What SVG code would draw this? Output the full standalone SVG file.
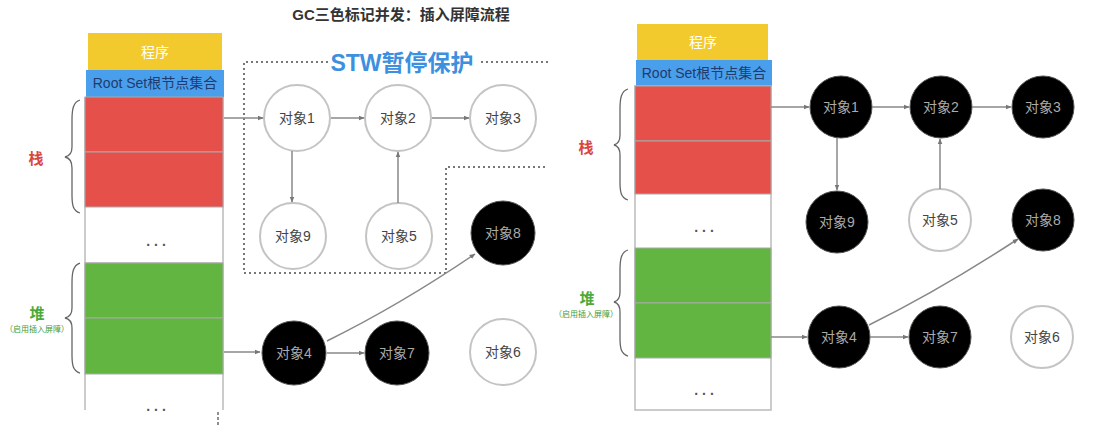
<svg xmlns="http://www.w3.org/2000/svg" width="1097" height="426" viewBox="0 0 1097 426">
<defs>
<marker id="ah" viewBox="0 0 10 10" refX="9" refY="5" markerWidth="6" markerHeight="6" orient="auto" markerUnits="userSpaceOnUse">
<path d="M0,1 L10,5 L0,9 z" fill="#777"/>
</marker>
<style>
text{font-family:"Liberation Sans","Noto Sans CJK SC",sans-serif;}
.title{font-size:15px;font-weight:bold;fill:#333;}
.stw{font-size:23px;font-weight:bold;fill:#3d8fe0;}
.prog{font-size:14px;fill:#fff;text-anchor:middle;}
.root{font-size:14px;fill:#1f3b6e;text-anchor:middle;}
.col{fill:none;stroke:#bbb;stroke-width:1.5;}
.red{fill:#e5504b;stroke:#aaa;stroke-width:1;}
.green{fill:#62b540;stroke:#aaa;stroke-width:1;}
.dots{font-size:14px;font-weight:bold;fill:#555;text-anchor:middle;letter-spacing:4px;}
.brace{fill:none;stroke:#666;stroke-width:1.3;}
.zhan{font-size:15px;font-weight:bold;fill:#d9463f;text-anchor:middle;}
.dui{font-size:15px;font-weight:bold;fill:#4caa3a;text-anchor:middle;}
.tiny{font-size:8px;fill:#3f9a35;text-anchor:middle;}
.w circle{fill:#fff;stroke:#c4c4c4;stroke-width:2;}
.b circle{fill:#000;stroke:#555;stroke-width:1;}
.w text{font-size:14px;fill:#444;text-anchor:middle;}
.b text{font-size:14px;fill:#aaa;text-anchor:middle;}
.e{fill:none;stroke:#888;stroke-width:1.5;marker-end:url(#ah);}
.dotted{fill:none;stroke:#777;stroke-width:2;stroke-dasharray:2 3;}
</style>
</defs>
<rect width="1097" height="426" fill="#fff"/>

<text class="title" x="401" y="20" text-anchor="middle">GC三色标记并发：插入屏障流程</text>

<!-- left panel column -->
<g id="left-memory">
<rect x="88" y="33" width="134" height="37" fill="#f3ca2e"/>
<text class="prog" x="155" y="57">程序</text>
<rect x="86" y="70" width="138" height="27" fill="#4a9fec"/>
<text class="root" x="155" y="88">Root Set根节点集合</text>
<path class="col" d="M85,97 V410 M223,97 V410"/>
<rect class="red" x="85" y="97" width="138" height="55"/>
<rect class="red" x="85" y="152" width="138" height="55"/>
<line x1="85" y1="263" x2="223" y2="263" stroke="#bbb" stroke-width="1.5"/>
<text class="dots" x="158" y="246">...</text>
<rect class="green" x="85" y="263" width="138" height="55"/>
<rect class="green" x="85" y="318" width="138" height="56"/>
<text class="dots" x="158" y="411">...</text>
<path class="brace" d="M80,100 C73,102 72,110 72,120 L72,147 C72,153 70,156 65,157 C70,158 72,162 72,168 L72,195 C72,205 73,211 80,213"/>
<text class="zhan" x="36" y="164">栈</text>
<path class="brace" d="M80,263 C73,265 72,273 72,283 L72,308 C72,314 70,317 65,318 C70,319 72,322 72,328 L72,355 C72,365 73,371 80,373"/>
<text class="dui" x="37" y="319">堆</text>
<text class="tiny" x="37" y="332">（启用插入屏障）</text>
<line x1="218" y1="412" x2="218" y2="426" stroke="#222" stroke-width="1" stroke-dasharray="3 2"/>
</g>

<g id="stw-region">
<path class="dotted" d="M548,62 H244 V273 H446 V167 H548"/>
<rect x="328" y="48" width="150" height="28" fill="#fff"/>
<text class="stw" x="402" y="71" text-anchor="middle">STW暂停保护</text>
</g>

<!-- left nodes -->
<g id="L-obj1" class="w"><circle cx="297" cy="118" r="33"/><text x="297" y="123">对象1</text></g>
<g id="L-obj2" class="w"><circle cx="398" cy="118" r="33"/><text x="398" y="123">对象2</text></g>
<g id="L-obj3" class="w"><circle cx="503" cy="118" r="33"/><text x="503" y="123">对象3</text></g>
<g id="L-obj9" class="w"><circle cx="293" cy="236" r="33"/><text x="293" y="241">对象9</text></g>
<g id="L-obj5" class="w"><circle cx="399" cy="236" r="33"/><text x="399" y="241">对象5</text></g>
<g id="L-obj8" class="b"><circle cx="503" cy="233" r="32"/><text x="503" y="238">对象8</text></g>
<g id="L-obj4" class="b"><circle cx="294" cy="353" r="32"/><text x="294" y="358">对象4</text></g>
<g id="L-obj7" class="b"><circle cx="397" cy="353" r="32"/><text x="397" y="358">对象7</text></g>
<g id="L-obj6" class="w"><circle cx="503" cy="352" r="33"/><text x="503" y="357">对象6</text></g>

<!-- right panel column -->
<g id="right-memory">
<rect x="637" y="24" width="131" height="36" fill="#f3ca2e"/>
<text class="prog" x="703" y="47">程序</text>
<rect x="636" y="60" width="136" height="26" fill="#4a9fec"/>
<text class="root" x="704" y="78">Root Set根节点集合</text>
<rect class="col" x="635" y="86" width="136" height="324"/>
<rect class="red" x="635" y="86" width="136" height="55"/>
<rect class="red" x="635" y="141" width="136" height="53"/>
<text class="dots" x="706" y="232">...</text>
<rect class="green" x="635" y="248" width="136" height="55"/>
<rect class="green" x="635" y="303" width="136" height="55"/>
<text class="dots" x="706" y="395">...</text>
<path class="brace" d="M628,89 C621,91 620,99 620,109 L620,135 C620,141 618,144 614,145 C618,146 620,149 620,155 L620,182 C620,192 621,198 628,200"/>
<text class="zhan" x="586" y="153">栈</text>
<path class="brace" d="M628,250 C621,252 620,260 620,270 L620,292 C620,298 618,301 614,302 C618,303 620,306 620,312 L620,338 C620,348 621,354 628,356"/>
<text class="dui" x="587" y="304">堆</text>
<text class="tiny" x="586" y="317">（启用插入屏障）</text>
</g>

<!-- right nodes -->
<g id="R-obj1" class="b"><circle cx="841" cy="107" r="31"/><text x="841" y="112">对象1</text></g>
<g id="R-obj2" class="b"><circle cx="941" cy="107" r="31"/><text x="941" y="112">对象2</text></g>
<g id="R-obj3" class="b"><circle cx="1043" cy="107" r="31"/><text x="1043" y="112">对象3</text></g>
<g id="R-obj9" class="b"><circle cx="837" cy="222" r="31"/><text x="837" y="227">对象9</text></g>
<g id="R-obj5" class="w"><circle cx="940" cy="220" r="31"/><text x="940" y="225">对象5</text></g>
<g id="R-obj8" class="b"><circle cx="1043" cy="220" r="31"/><text x="1043" y="225">对象8</text></g>
<g id="R-obj4" class="b"><circle cx="839" cy="337" r="31"/><text x="839" y="342">对象4</text></g>
<g id="R-obj7" class="b"><circle cx="940" cy="337" r="31"/><text x="940" y="342">对象7</text></g>
<g id="R-obj6" class="w"><circle cx="1042" cy="337" r="31"/><text x="1042" y="342">对象6</text></g>

<g id="connectors">
<path class="e" d="M224,118 H263"/>
<path class="e" d="M331,118 H364"/>
<path class="e" d="M432,118 H469"/>
<path class="e" d="M292,151 V202"/>
<path class="e" d="M398,203 V152"/>
<path class="e" d="M224,352 H260"/>
<path class="e" d="M327,353 H364"/>
<path class="e" d="M327,341 Q400,305 475,254"/>
<path class="e" d="M771,107 H809"/>
<path class="e" d="M872,107 H909"/>
<path class="e" d="M972,107 H1011"/>
<path class="e" d="M837,138 V190"/>
<path class="e" d="M940,189 V139"/>
<path class="e" d="M771,337 H807"/>
<path class="e" d="M870,337 H908"/>
<path class="e" d="M869,325 Q940,290 1018,239"/>
</g>
</svg>
